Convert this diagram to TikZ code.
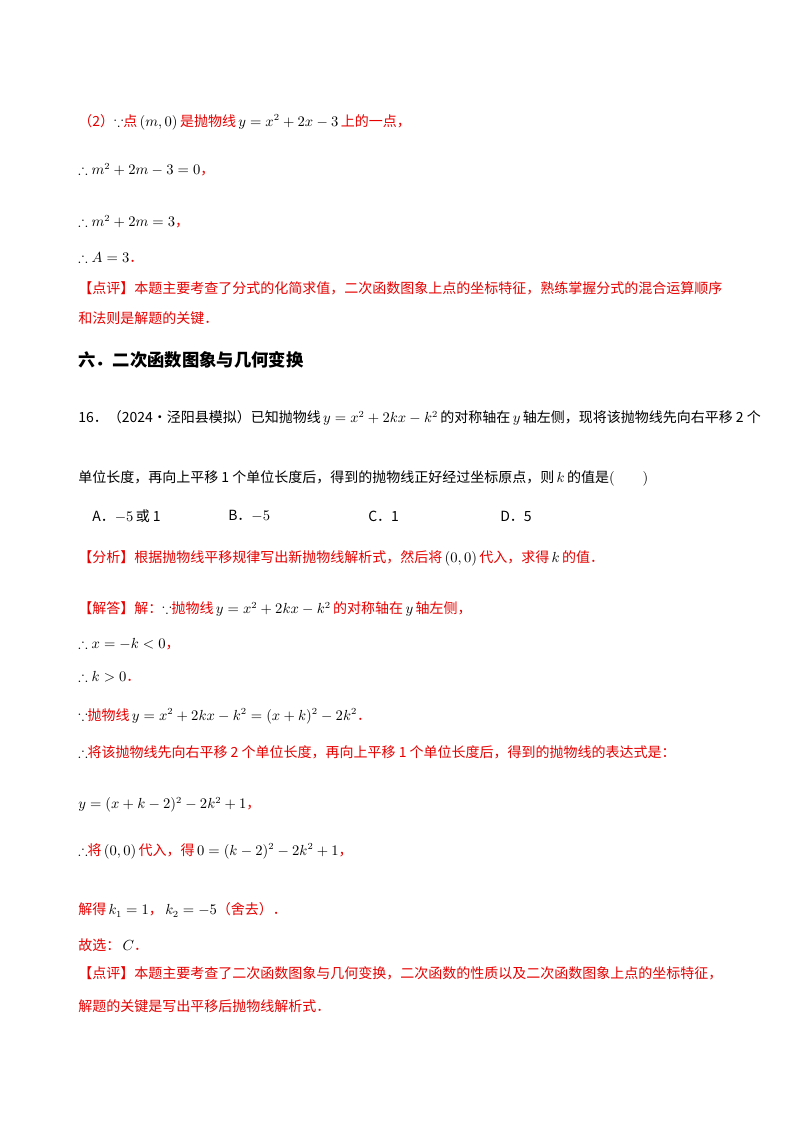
\documentclass[tikz,border=0pt]{standalone}
\usepackage{amsmath,amssymb}
\usepackage{fontspec}
\setmainfont{Noto Sans CJK SC}
\definecolor{rd}{RGB}{230,0,0}
\begin{document}
\begin{tikzpicture}[x=0.75pt,y=-0.75pt,
  ln/.style={anchor=west,inner sep=0pt,font=\fontsize{10.5}{13}\selectfont},
  red/.style={text=rd}]
\useasboundingbox (0,0) rectangle (800,1132);
\newcommand\R[1]{\textcolor{rd}{#1}}
\node[ln] (l1) at (78,122) {\R{（2）}$\because$\R{点}\,$(m,0)$\,\R{是抛物线}\,$y=x^2+2x-3$\,\R{上的一点，}};
\node[ln] (l2) at (78,170) {$\therefore m^2+2m-3=0$\R{，}};
\node[ln] (l3) at (78,222) {$\therefore m^2+2m=3$\R{，}};
\node[ln] (l4) at (78,258) {$\therefore A=3$\R{．}};
\node[ln] (l5) at (78,288) {\R{【点评】本题主要考查了分式的化简求值，二次函数图象上点的坐标特征，熟练掌握分式的混合运算顺序}};
\node[ln] (l6) at (78,318) {\R{和法则是解题的关键．}};
\node[ln,font=\fontsize{13}{16}\selectfont\bfseries] (h) at (78,360) {六．二次函数图象与几何变换};
\node[ln] (q1) at (78,418) {16．（2024•泾阳县模拟）已知抛物线\,$y=x^2+2kx-k^2$\,的对称轴在\,$y$\,轴左侧，现将该抛物线先向右平移 2 个};
\node[ln] (q2) at (78,478) {单位长度，再向上平移 1 个单位长度后，得到的抛物线正好经过坐标原点，则\,$k$\,的值是$(\qquad)$};
\node[ln] (oa) at (92,516) {A．$-5$\,或 1};
\node[ln] (ob) at (228,516) {B．$-5$};
\node[ln] (oc) at (368,516) {C．1};
\node[ln] (od) at (500,516) {D．5};
\node[ln] (s1) at (78,558) {\R{【分析】根据抛物线平移规律写出新抛物线解析式，然后将}\,$(0,0)$\,\R{代入，求得}\,$k$\,\R{的值．}};
\node[ln] (s2) at (78,609) {\R{【解答】解：}$\because$\R{抛物线}\,$y=x^2+2kx-k^2$\,\R{的对称轴在}\,$y$\,\R{轴左侧，}};
\node[ln] (s3) at (78,644) {$\therefore x=-k<0$\R{，}};
\node[ln] (s4) at (78,677) {$\therefore k>0$\R{．}};
\node[ln] (s5) at (78,716) {$\because$\R{抛物线}\,$y=x^2+2kx-k^2=(x+k)^2-2k^2$\R{．}};
\node[ln] (s6) at (78,752) {$\therefore$\R{将该抛物线先向右平移 2 个单位长度，再向上平移 1 个单位长度后，得到的抛物线的表达式是：}};
\node[ln] (s7) at (78,805) {$y=(x+k-2)^2-2k^2+1$\R{，}};
\node[ln] (s8) at (78,851) {$\therefore$\R{将}\,$(0,0)$\,\R{代入，得}\,$0=(k-2)^2-2k^2+1$\R{，}};
\node[ln] (s9) at (78,910) {\R{解得}\,$k_1=1$\R{，}\,$k_2=-5$\R{（舍去）．}};
\node[ln] (s10) at (78,945) {\R{故选：}\,$C$\R{．}};
\node[ln] (s11) at (78,973) {\R{【点评】本题主要考查了二次函数图象与几何变换，二次函数的性质以及二次函数图象上点的坐标特征，}};
\node[ln] (s12) at (78,1006) {\R{解题的关键是写出平移后抛物线解析式．}};
\end{tikzpicture}
\end{document}
